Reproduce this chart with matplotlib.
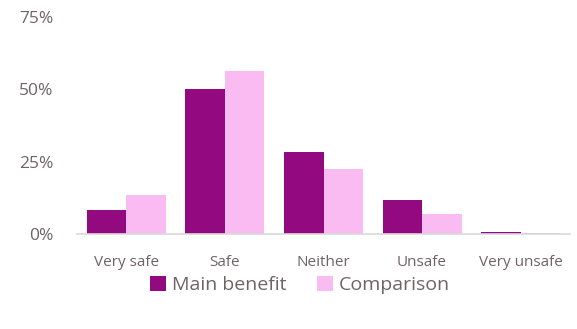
import matplotlib.pyplot as plt
import numpy as np

categories = ['Very safe', 'Safe', 'Neither', 'Unsafe', 'Very unsafe']
main_benefit = [0.083, 0.502, 0.283, 0.118, 0.007]
comparison = [0.135, 0.562, 0.224, 0.070, 0.002]
yticks = [0, 0.25, 0.5, 0.75]
ytick_labels = ['0%', '25%', '50%', '75%']

text_col = '#6f6366'
plt.rcParams['font.family'] = ['Open Sans', 'DejaVu Sans']

fig = plt.figure(figsize=(5.77, 3.29), dpi=100)
ax = fig.add_axes([77 / 577, 1 - 234 / 329, (570 - 77) / 577, (234 - 17) / 329])

x = np.arange(len(categories))
w = 0.4
ax.bar(x - w / 2, main_benefit, w, color='#930a80', label='Main benefit')
ax.bar(x + w / 2, comparison, w, color='#f9bbf2', label='Comparison')

ax.set_xlim(-0.5, len(categories) - 0.5)
ax.set_ylim(0, 0.75)
ax.set_yticks(yticks)
ax.set_yticklabels(ytick_labels)
ax.set_xticks(x)
ax.set_xticklabels(categories)
ax.tick_params(axis='y', length=0, pad=17, labelsize=12.5, labelcolor=text_col)
ax.tick_params(axis='x', length=0, pad=15, labelsize=11, labelcolor=text_col)

for s in ['top', 'right', 'left']:
    ax.spines[s].set_visible(False)
ax.spines['bottom'].set_color('#d9d9d9')
ax.spines['bottom'].set_linewidth(1.2)

leg = fig.legend(loc='center', bbox_to_anchor=(300 / 577, 1 - 285 / 329), ncol=2,
                 frameon=False, fontsize=14, handlelength=0.8, handleheight=0.8,
                 handletextpad=0.3, columnspacing=1.6)
for t in leg.get_texts():
    t.set_color(text_col)

fig.savefig('out.png', dpi=100)
